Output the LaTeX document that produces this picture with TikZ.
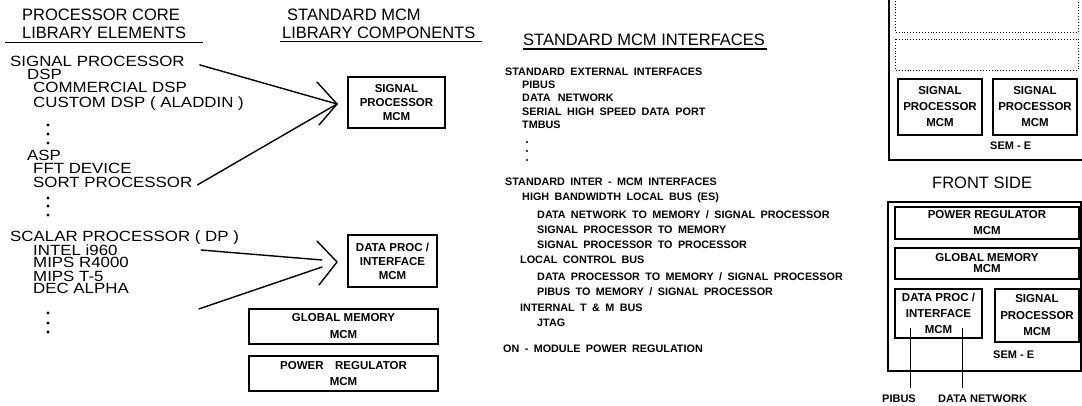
\documentclass[tikz,border=0pt]{standalone}
\usepackage{fontspec}
\setmainfont{Liberation Sans}
\newfontfamily\bigfam[FakeStretch=1.14]{Liberation Sans}
\usetikzlibrary{calc}
\newcommand\bxf[1]{\bfseries\fontsize{11.5}{#1}\selectfont}
\newcommand\smlfont{\bfseries\fontsize{10.8}{12}\selectfont\spaceskip 0.5em\relax}
\begin{document}
\begin{tikzpicture}[x=1pt,y=-1pt,
  big/.style={inner sep=0pt, anchor=base west, font=\bigfam\fontsize{14.8}{15}\selectfont},
  hdr/.style={inner sep=0pt, anchor=base west, font=\fontsize{16.5}{16.5}\selectfont},
  sml/.style={inner sep=0pt, anchor=base west, font=\smlfont},
  lbl/.style={inner sep=0pt, anchor=base west, font=\bfseries\fontsize{11}{12}\selectfont},
  box/.style={draw, line width=1.2pt, inner sep=0pt, align=center},
  conn/.style={line width=1.4pt, line cap=round, line join=round},
  outer/.style={line width=1.5pt},
  dotbox/.style={dotted, line width=0.9pt},
  dot/.style={fill=black}
]
\fill[white] (0,0) rectangle (1082,406);
\useasboundingbox (0,0) rectangle (1082,406);

% ---------- column 1 ----------
\node[hdr] (h1a) at (22,21) {PROCESSOR CORE};
\node[hdr] (h1b) at (22,39) {LIBRARY ELEMENTS};
\draw[line width=1.3pt] (5,42.5) -- (203,42.5);

\node[big] (sp)     at (10,67)  {SIGNAL PROCESSOR};
\node[big] (dsp)    at (27,80)  {DSP};
\node[big] (comm)   at (33,93)  {COMMERCIAL DSP};
\node[big] (cust)   at (33,108) {CUSTOM DSP ( ALADDIN )};
\foreach \yy in {125,134,143} \fill[dot] (48,\yy) circle[radius=1.6pt];
\node[big] (asp)    at (27,161) {ASP};
\node[big] (fft)    at (33,174) {FFT DEVICE};
\node[big] (sort)   at (33,188) {SORT PROCESSOR};
\foreach \yy in {198,206,215} \fill[dot] (48,\yy) circle[radius=1.6pt];
\node[big] (scalar) at (10,242) {SCALAR PROCESSOR ( DP )};
\node[big] (intel)  at (33,255) {INTEL i960};
\node[big] (mips1)  at (33,268) {MIPS R4000};
\node[big] (mips2)  at (33,281) {MIPS T-5};
\node[big] (dec)    at (33,294) {DEC ALPHA};
\foreach \yy in {313,323,332} \fill[dot] (48,\yy) circle[radius=1.6pt];

% ---------- column 2 ----------
\node[hdr] (h2a) at (287,21) {STANDARD MCM};
\node[hdr] (h2b) at (282,39) {LIBRARY COMPONENTS};
\draw[line width=1.3pt] (280,41.5) -- (482,41.5);

\node[box, minimum width=97pt, minimum height=51pt, font=\bxf{14}] (spm) at (396.5,102.5) {SIGNAL\\PROCESSOR\\MCM};
\node[box, minimum width=89pt, minimum height=52pt, font=\bxf{14}] (dpm) at (392.5,261) {DATA PROC /\\INTERFACE\\MCM};
\node[box, minimum width=189pt, minimum height=35pt, font=\bxf{17}] (gmm) at (343.5,326.5) {GLOBAL MEMORY\\MCM};
\node[box, minimum width=189pt, minimum height=35pt, font=\bxf{16}] (prm) at (343.5,373.5) {POWER\quad REGULATOR\\MCM};

% arrows into signal processor MCM
\coordinate (t1) at (337,104);
\draw[conn] ($(sp.east)+(15,3)$) -- (t1);
\draw[conn] ($(sort.east)+(5,2)$) -- (t1);
\draw[conn] ($(t1)+(-20,-22)$) -- (t1) -- ($(t1)+(-18,21)$);

% arrows into data proc MCM
\coordinate (t2) at (337,262);
\draw[conn] ($(scalar.base east)+(-38,8)$) -- ($(t2)+(-15,-2)$);
\draw[conn] ($(dec.east)+(70,20)$) -- ($(t2)+(-15,5)$);
\draw[conn] ($(t2)+(-20,-21)$) -- (t2) -- ($(t2)+(-18,23)$);

% ---------- column 3 ----------
\node[hdr] (h3) at (523,46) {STANDARD MCM INTERFACES};
\draw[line width=1.3pt] (523,49) -- (767,49);

\node[sml] (ext)  at (505,76)  {STANDARD EXTERNAL INTERFACES};
\node[sml] (e1)   at (522,89)  {PIBUS};
\node[sml] (e2)   at (522,102) {DATA\, NETWORK};
\node[sml] (e3)   at (522,116) {SERIAL HIGH SPEED DATA PORT};
\node[sml] (e4)   at (522,129) {TMBUS};
\foreach \yy in {142,151,160} \fill[dot] (527,\yy) circle[radius=1.2pt];
\node[sml] (inter) at (505,186) {STANDARD INTER - MCM INTERFACES};
\node[sml] (i1)   at (522,201) {HIGH BANDWIDTH LOCAL BUS (ES)};
\node[sml] (i1a)  at (537,219) {DATA NETWORK TO MEMORY / SIGNAL PROCESSOR};
\node[sml] (i1b)  at (537,234) {SIGNAL PROCESSOR TO MEMORY};
\node[sml] (i1c)  at (537,249) {SIGNAL PROCESSOR TO PROCESSOR};
\node[sml] (i2)   at (520,264) {LOCAL CONTROL BUS};
\node[sml] (i2a)  at (537,280) {DATA PROCESSOR TO MEMORY / SIGNAL PROCESSOR};
\node[sml] (i2b)  at (537,295) {PIBUS TO MEMORY / SIGNAL PROCESSOR};
\node[sml] (i3)   at (520,311) {INTERNAL T \& M BUS};
\node[sml] (i3a)  at (537,326) {JTAG};
\node[sml] (pwr)  at (503,352) {ON - MODULE POWER REGULATION};

% ---------- column 4: back side ----------
\draw[outer] (889,-5) rectangle (1086,160);
\draw[dotbox] (895,-5) rectangle (1078,32);
\draw[dotbox] (895,39) rectangle (1078,70);
\node[box, minimum width=84pt, minimum height=56pt, font=\bxf{16}] (sb1) at (940,107) {SIGNAL\\PROCESSOR\\MCM};
\node[box, minimum width=84pt, minimum height=56pt, font=\bxf{16}] (sb2) at (1035,107) {SIGNAL\\PROCESSOR\\MCM};
\node[lbl] (sem1) at (990,150) {SEM - E};

\node[hdr] (front) at (932,189) {FRONT SIDE};

% ---------- column 4: front side ----------
\draw[outer] (888,202) rectangle (1081,371);
\node[box, minimum width=184pt, minimum height=32pt, font=\bxf{16}] (fpr) at (987,223) {POWER REGULATOR\\MCM};
\node[box, minimum width=184pt, minimum height=31pt, font=\bxf{11}] (fgm) at (987,263.5) {GLOBAL MEMORY\\MCM};
\node[box, minimum width=87pt, minimum height=49pt, font=\bxf{16}] (fdp) at (938.5,313.5) {DATA PROC /\\INTERFACE\\MCM};
\node[box, minimum width=84pt, minimum height=53pt, font=\bxf{16.5}] (fsp) at (1037,315.5) {SIGNAL\\PROCESSOR\\MCM};
\node[lbl] (sem2) at (993,358) {SEM - E};

\node[lbl] (pib) at (882,402) {PIBUS};
\node[lbl] (dnet) at (938,402) {DATA NETWORK};
\draw[line width=1.2pt] ($(fdp.south west)+(16,-11)$) -- ($(fdp.south west)+(16,49)$);
\draw[line width=1.2pt] ($(fdp.south west)+(68,-11)$) -- ($(fdp.south west)+(68,49)$);
\end{tikzpicture}
\end{document}
